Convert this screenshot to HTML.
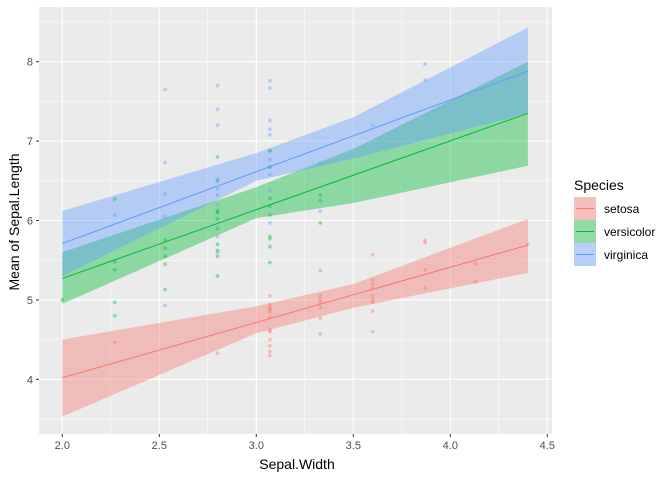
<!DOCTYPE html>
<html><head><meta charset="utf-8"><style>
body{margin:0;background:#fff}
svg{display:block;font-family:"Liberation Sans",Arial,sans-serif}
</style></head><body>
<svg id="chart" width="672" height="480" xmlns="http://www.w3.org/2000/svg">
<rect x="0" y="0" width="672" height="480" fill="#fff"/>
<g id="panel"></g>
<text x="297" y="469" text-anchor="middle" font-size="14" fill="#000">Sepal.Width</text>
<text transform="translate(19,222) rotate(-90)" text-anchor="middle" font-size="14" fill="#000">Mean of Sepal.Length</text>
<g id="legend">
<text x="574" y="190" font-size="14" fill="#000">Species</text>
</g>
</svg>
<script>
const species = ["setosa","versicolor","virginica"];
const colors = ["#F8766D","#00BA38","#619CFF"];
const xTicks = [2.0,2.5,3.0,3.5,4.0,4.5];
const xTickLabels = ["2.0","2.5","3.0","3.5","4.0","4.5"];
const yTicks = [4,5,6,7,8];
const yTickLabels = ["4","5","6","7","8"];
const lineX = [2.0, 4.4];
const setosaLine = [4.02, 5.69];
const versicolorLine = [5.27, 7.35];
const virginicaLine = [5.71, 7.88];
const ribbonX = [2.0, 3.0, 3.5, 4.4];
const setosaLower = [3.53, 4.58, 4.90, 5.34];
const setosaUpper = [4.50, 4.92, 5.20, 6.02];
const versicolorLower = [4.95, 6.03, 6.22, 6.69];
const versicolorUpper = [5.60, 6.42, 6.90, 8.00];
const virginicaLower = [5.30, 6.50, 6.78, 7.35];
const virginicaUpper = [6.12, 6.85, 7.30, 8.43];
const setosaPts = [[2.27,4.47],[2.8,4.33],[3.07,4.3],[3.07,4.35],[3.07,4.42],[3.07,4.5],[3.07,4.6],[3.07,4.62],[3.07,4.78],[3.07,4.85],[3.07,4.88],[3.07,4.9],[3.07,4.94],[3.07,5.05],[3.33,4.57],[3.33,4.77],[3.33,4.9],[3.33,4.97],[3.33,5.0],[3.33,5.05],[3.33,5.37],[3.6,4.6],[3.6,4.86],[3.6,4.97],[3.6,5.0],[3.6,5.05],[3.6,5.15],[3.6,5.2],[3.6,5.25],[3.6,5.57],[3.87,5.15],[3.87,5.38],[3.87,5.72],[3.87,5.75],[4.13,5.23],[4.13,5.46],[4.4,5.7]];
const versicolorPts = [[2.0,5.0],[2.27,4.8],[2.27,4.97],[2.27,5.38],[2.27,5.48],[2.27,6.27],[2.53,5.13],[2.53,5.45],[2.53,5.55],[2.53,5.65],[2.53,5.75],[2.8,5.3],[2.8,5.55],[2.8,5.62],[2.8,5.7],[2.8,5.9],[2.8,6.02],[2.8,6.1],[2.8,6.12],[2.8,6.5],[2.8,6.8],[3.07,5.47],[3.07,5.67],[3.07,5.77],[3.07,5.8],[3.07,6.07],[3.07,6.18],[3.07,6.28],[3.07,6.67],[3.07,6.88],[3.33,5.97],[3.33,6.25],[3.33,6.32]];
const virginicaPts = [[2.27,6.07],[2.53,4.93],[2.53,6.05],[2.53,6.33],[2.53,6.73],[2.53,7.65],[2.8,5.6],[2.8,5.8],[2.8,6.2],[2.8,6.32],[2.8,6.4],[2.8,6.52],[2.8,7.2],[2.8,7.4],[2.8,7.7],[3.07,5.97],[3.07,6.38],[3.07,6.58],[3.07,6.68],[3.07,6.77],[3.07,6.87],[3.07,7.08],[3.07,7.15],[3.07,7.26],[3.07,7.67],[3.07,7.76],[3.33,6.12],[3.33,6.72],[3.6,7.2],[3.87,7.77],[3.87,7.97]];

const L=39,R=552,T=7,B=434;
const xScale=v=>62.3+(v-2.0)*194;
const yScale=v=>379.3-(v-4)*79.4;
const NS="http://www.w3.org/2000/svg";
const panel=document.getElementById('panel');
function mk(tag,attrs,parent){const e=document.createElementNS(NS,tag);for(const k in attrs)e.setAttribute(k,attrs[k]);(parent||panel).appendChild(e);return e;}
const bg=mk('rect',{x:L,y:T,width:R-L,height:B-T,fill:'#EBEBEB'});


for(let i=0;i<xTicks.length-1;i++){const x=xScale((xTicks[i]+xTicks[i+1])/2);const g=mk('line',{x1:x,x2:x,y1:T,y2:B,stroke:'#fff','stroke-width':0.5});

}
const yMinor=[3.5,4.5,5.5,6.5,7.5,8.5];
yMinor.forEach(v=>{const y=yScale(v);const g=mk('line',{x1:L,x2:R,y1:y,y2:y,stroke:'#fff','stroke-width':0.5});

});
xTicks.forEach((v,i)=>{const x=xScale(v);const g=mk('line',{x1:x,x2:x,y1:T,y2:B,stroke:'#fff','stroke-width':1.1});


const t=mk('line',{x1:x,x2:x,y1:B,y2:B+3,stroke:'#333','stroke-width':1});


const l=mk('text',{x:x,y:B+15,'text-anchor':'middle','font-size':11,fill:'#4D4D4D'});l.textContent=xTickLabels[i];

});
yTicks.forEach((v,i)=>{const y=yScale(v);const g=mk('line',{x1:L,x2:R,y1:y,y2:y,stroke:'#fff','stroke-width':1.1});


const t=mk('line',{x1:L-3,x2:L,y1:y,y2:y,stroke:'#333','stroke-width':1});


const l=mk('text',{x:L-6,y:y+4,'text-anchor':'end','font-size':11,fill:'#4D4D4D'});l.textContent=yTickLabels[i];

});
const lines=[setosaLine,versicolorLine,virginicaLine];
const lows=[setosaLower,versicolorLower,virginicaLower];
const ups=[setosaUpper,versicolorUpper,virginicaUpper];
const pts=[setosaPts,versicolorPts,virginicaPts];
species.forEach((s,i)=>{
 let d='';ribbonX.forEach((x,j)=>{d+=(j?'L':'M')+xScale(x)+','+yScale(ups[i][j]);});
 for(let j=ribbonX.length-1;j>=0;j--)d+='L'+xScale(ribbonX[j])+','+yScale(lows[i][j]);
 const r=mk('path',{d:d+'Z',fill:colors[i],'fill-opacity':0.4});
 
 
});
species.forEach((s,i)=>{
 pts[i].forEach(p=>{const c=mk('circle',{cx:xScale(p[0]),cy:yScale(p[1]),r:1.9,fill:colors[i],'fill-opacity':0.4});
 
 });
});
species.forEach((s,i)=>{
 const l=mk('line',{x1:xScale(lineX[0]),y1:yScale(lines[i][0]),x2:xScale(lineX[1]),y2:yScale(lines[i][1]),stroke:colors[i],'stroke-width':1});
 
 
});
const lg=document.getElementById('legend');
species.forEach((s,i)=>{
 const y=197+i*23;
 const g=mk('g',{},lg);
 
 
 mk('rect',{x:574,y:y,width:22,height:23,fill:'#F2F2F2'},g);
 mk('rect',{x:574,y:y,width:22,height:23,fill:colors[i],'fill-opacity':0.4},g);
 mk('line',{x1:576,x2:594,y1:y+11.5,y2:y+11.5,stroke:colors[i],'stroke-width':1},g);
 const t=mk('text',{x:604,y:y+16,'font-size':12,fill:'#000'},g);t.textContent=s;
});
</script>
</body></html>
